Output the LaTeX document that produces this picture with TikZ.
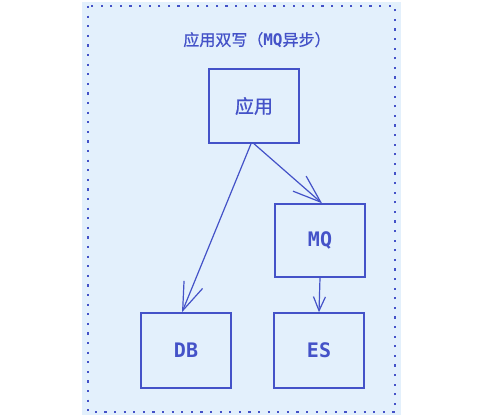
\documentclass[tikz,border=0pt]{standalone}
\usepackage{fontspec}
\newfontfamily\cjk[FakeBold=0.8]{Noto Sans CJK SC}
\newfontfamily\mono{DejaVu Sans Mono}
\usetikzlibrary{arrows.meta}
\definecolor{ink}{RGB}{68,82,200}
\definecolor{bg}{RGB}{227,240,252}
\tikzset{
  box/.style={draw=ink, line width=1.5pt, rectangle, inner sep=0pt, minimum width=90pt, text=ink},
  bigarrow/.style={draw=ink, line width=1.2pt, -{Straight Barb[length=28pt,width=20pt,line width=1.2pt]}},
  smallarrow/.style={draw=ink, line width=1.2pt, -{Straight Barb[length=14pt,width=12pt,line width=1.2pt]}},
  cjklabel/.style={font=\cjk\fontsize{19}{19}\selectfont},
  monolabel/.style={font=\mono\bfseries\fontsize{20}{20}\selectfont},
}
\begin{document}
\begin{tikzpicture}[x=1pt,y=-1pt]
\useasboundingbox (0,0) rectangle (477,417);
\fill[white] (0,0) rectangle (477,417);
\fill[bg] (82,2) rectangle (401,415);
\draw[ink, line width=1.6pt, dash pattern=on 2.2pt off 7.4pt] (88,6) rectangle (395,412);
\node[text=ink, font=\fontsize{16}{16}\selectfont] (title) at (257,40) {{\cjk 应用双写（}{\mono\bfseries MQ}{\cjk 异步）}};
\node[box, cjklabel, minimum height=74pt] (app) at (254,106) {应用};
\node[box, monolabel, minimum height=73pt] (mq) at (320,240.5) {MQ};
\node[box, monolabel, minimum height=75pt] (db) at (186,350.5) {DB};
\node[box, monolabel, minimum height=75pt] (es) at (319,350.5) {ES};
\draw[bigarrow] ([xshift=-3pt]app.south) -- ([xshift=-4pt]db.north);
\draw[bigarrow] (app.south) -- ([xshift=2pt]mq.north);
\draw[smallarrow] (mq.south) -- (es.north);
\end{tikzpicture}
\end{document}
